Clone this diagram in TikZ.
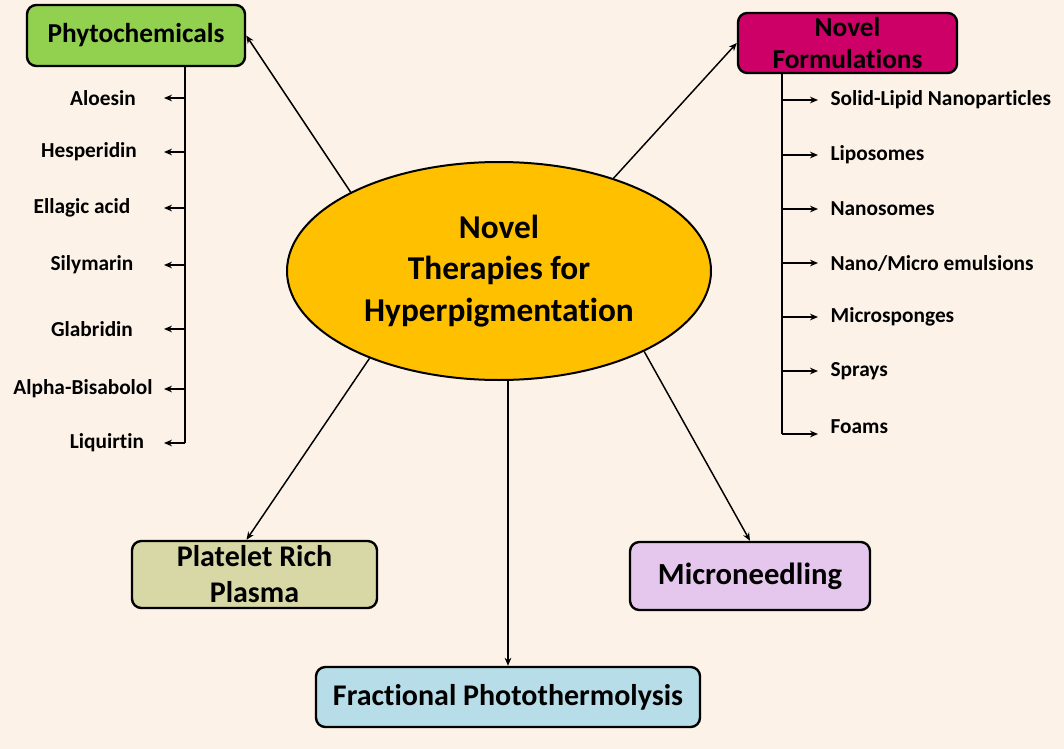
\documentclass[tikz,border=0pt]{standalone}
\usepackage{fontspec}
\setmainfont{Carlito}[Ligatures=NoCommon]
\usepackage{xcolor}
\usetikzlibrary{arrows.meta}
\usetikzlibrary{shapes.geometric}

\definecolor{bgcream}{RGB}{252,242,232}
\definecolor{phygreen}{RGB}{146,208,80}
\definecolor{formpink}{RGB}{204,0,102}
\definecolor{coreyellow}{RGB}{255,192,0}
\definecolor{prpkhaki}{RGB}{215,216,166}
\definecolor{mnpurple}{RGB}{229,198,236}
\definecolor{fptblue}{RGB}{183,222,232}

\begin{document}
\begin{tikzpicture}[x=0.75pt,y=-0.75pt,
    box/.style={draw=black,line width=1.8pt,rounded corners=7pt,align=center,inner sep=0pt,
      font=\bfseries\fontsize{20.5}{24}\selectfont},
    item/.style={inner sep=1pt,font=\bfseries\fontsize{16}{18}\selectfont},
    link/.style={line width=1.1pt,-{Stealth[length=6pt,width=5pt]}},
    trunk/.style={line width=1.1pt}]
      \fill[bgcream] (0,0) rectangle (1064,749);
      \useasboundingbox (0,0) rectangle (1064,749);
      %%
      \node[ellipse,draw=black,line width=1.5pt,fill=coreyellow,minimum width=318pt,minimum height=163.5pt,
        inner sep=0pt,align=center,font=\bfseries\fontsize{25}{31}\selectfont](core) at (499,271)
        {Novel\\Therapies for\\Hyperpigmentation};
      \node[box,fill=phygreen,minimum width=163.5pt,minimum height=45.75pt](phyto) at (136,35.5) {Phytochemicals};
      \node[box,fill=formpink,minimum width=164.25pt,minimum height=45pt](form) at (847.5,43) {Novel\\Formulations};
      \node[box,fill=prpkhaki,minimum width=183.75pt,minimum height=50.25pt,
        font=\bfseries\fontsize{22.5}{27}\selectfont](prp) at (254.5,574.5) {Platelet Rich\\Plasma};
      \node[box,fill=mnpurple,minimum width=180pt,minimum height=51pt,
        font=\bfseries\fontsize{23}{24}\selectfont](micro) at (750,576) {Microneedling};
      \node[box,fill=fptblue,minimum width=288pt,minimum height=45pt,
        font=\bfseries\fontsize{22.5}{24}\selectfont](fpt) at (508,697) {Fractional Photothermolysis};
      %%
      \draw[link](core.152)--(phyto.east);
      \draw[link](core.39)--(form.west);
      \draw[link](core.214)--(prp.103);
      \draw[link](fpt.north |- core.south)--(fpt.north);
      \draw[link](core.331)--(micro.north);
      %%
      \begin{scope}
        \coordinate(ltrunk) at (185,66);
        \coordinate(ltip) at (164,66);
        \node[item](aloesin) at (103,98) {Aloesin};
        \node[item](hesper) at (89,152) {Hesperidin};
        \node[item](ellagic) at (82,208) {Ellagic acid};
        \node[item](silym) at (92,265) {Silymarin};
        \node[item](glabr) at (92,329) {Glabridin};
        \node[item](bisab) at (83,389) {Alpha-Bisabolol};
        \node[item](liquir) at (107,443) {Liquirtin};
        \draw[trunk](ltrunk)--(liquir -| ltrunk);
        \draw[link](aloesin -| ltrunk)--(aloesin -| ltip);
        \draw[link](hesper -| ltrunk)--(hesper -| ltip);
        \draw[link](ellagic -| ltrunk)--(ellagic -| ltip);
        \draw[link](silym -| ltrunk)--(silym -| ltip);
        \draw[link](glabr -| ltrunk)--(glabr -| ltip);
        \draw[link](bisab -| ltrunk)--(bisab -| ltip);
        \draw[link](liquir -| ltrunk)--(liquir -| ltip);
      \end{scope}
      %%
      \begin{scope}
        \coordinate(rtrunk) at (782,73);
        \coordinate(rtip) at (818,73);
        \coordinate(rbot) at (782,434);
        \node[item,anchor=west](slnp) at (829,100) {Solid-Lipid Nanoparticles};
        \node[item,anchor=west](lipo) at (829,155) {Liposomes};
        \node[item,anchor=west](nanos) at (829,209) {Nanosomes};
        \node[item,anchor=west](emuls) at (829,263) {Nano/Micro emulsions};
        \node[item,anchor=west](spong) at (829,317) {Microsponges};
        \node[item,anchor=west](spray) at (829,371) {Sprays};
        \node[item,anchor=west](foams) at (829,427) {Foams};
        \draw[trunk](rtrunk)--(rbot);
        \draw[link](slnp.west -| rtrunk)--(slnp.west -| rtip);
        \draw[link](lipo.west -| rtrunk)--(lipo.west -| rtip);
        \draw[link](nanos.west -| rtrunk)--(nanos.west -| rtip);
        \draw[link](emuls.west -| rtrunk)--(emuls.west -| rtip);
        \draw[link](spong.west -| rtrunk)--(spong.west -| rtip);
        \draw[link](spray.west -| rtrunk)--(spray.west -| rtip);
        \draw[link](rbot)--(rbot -| rtip);
      \end{scope}
    \end{tikzpicture}
\end{document}
